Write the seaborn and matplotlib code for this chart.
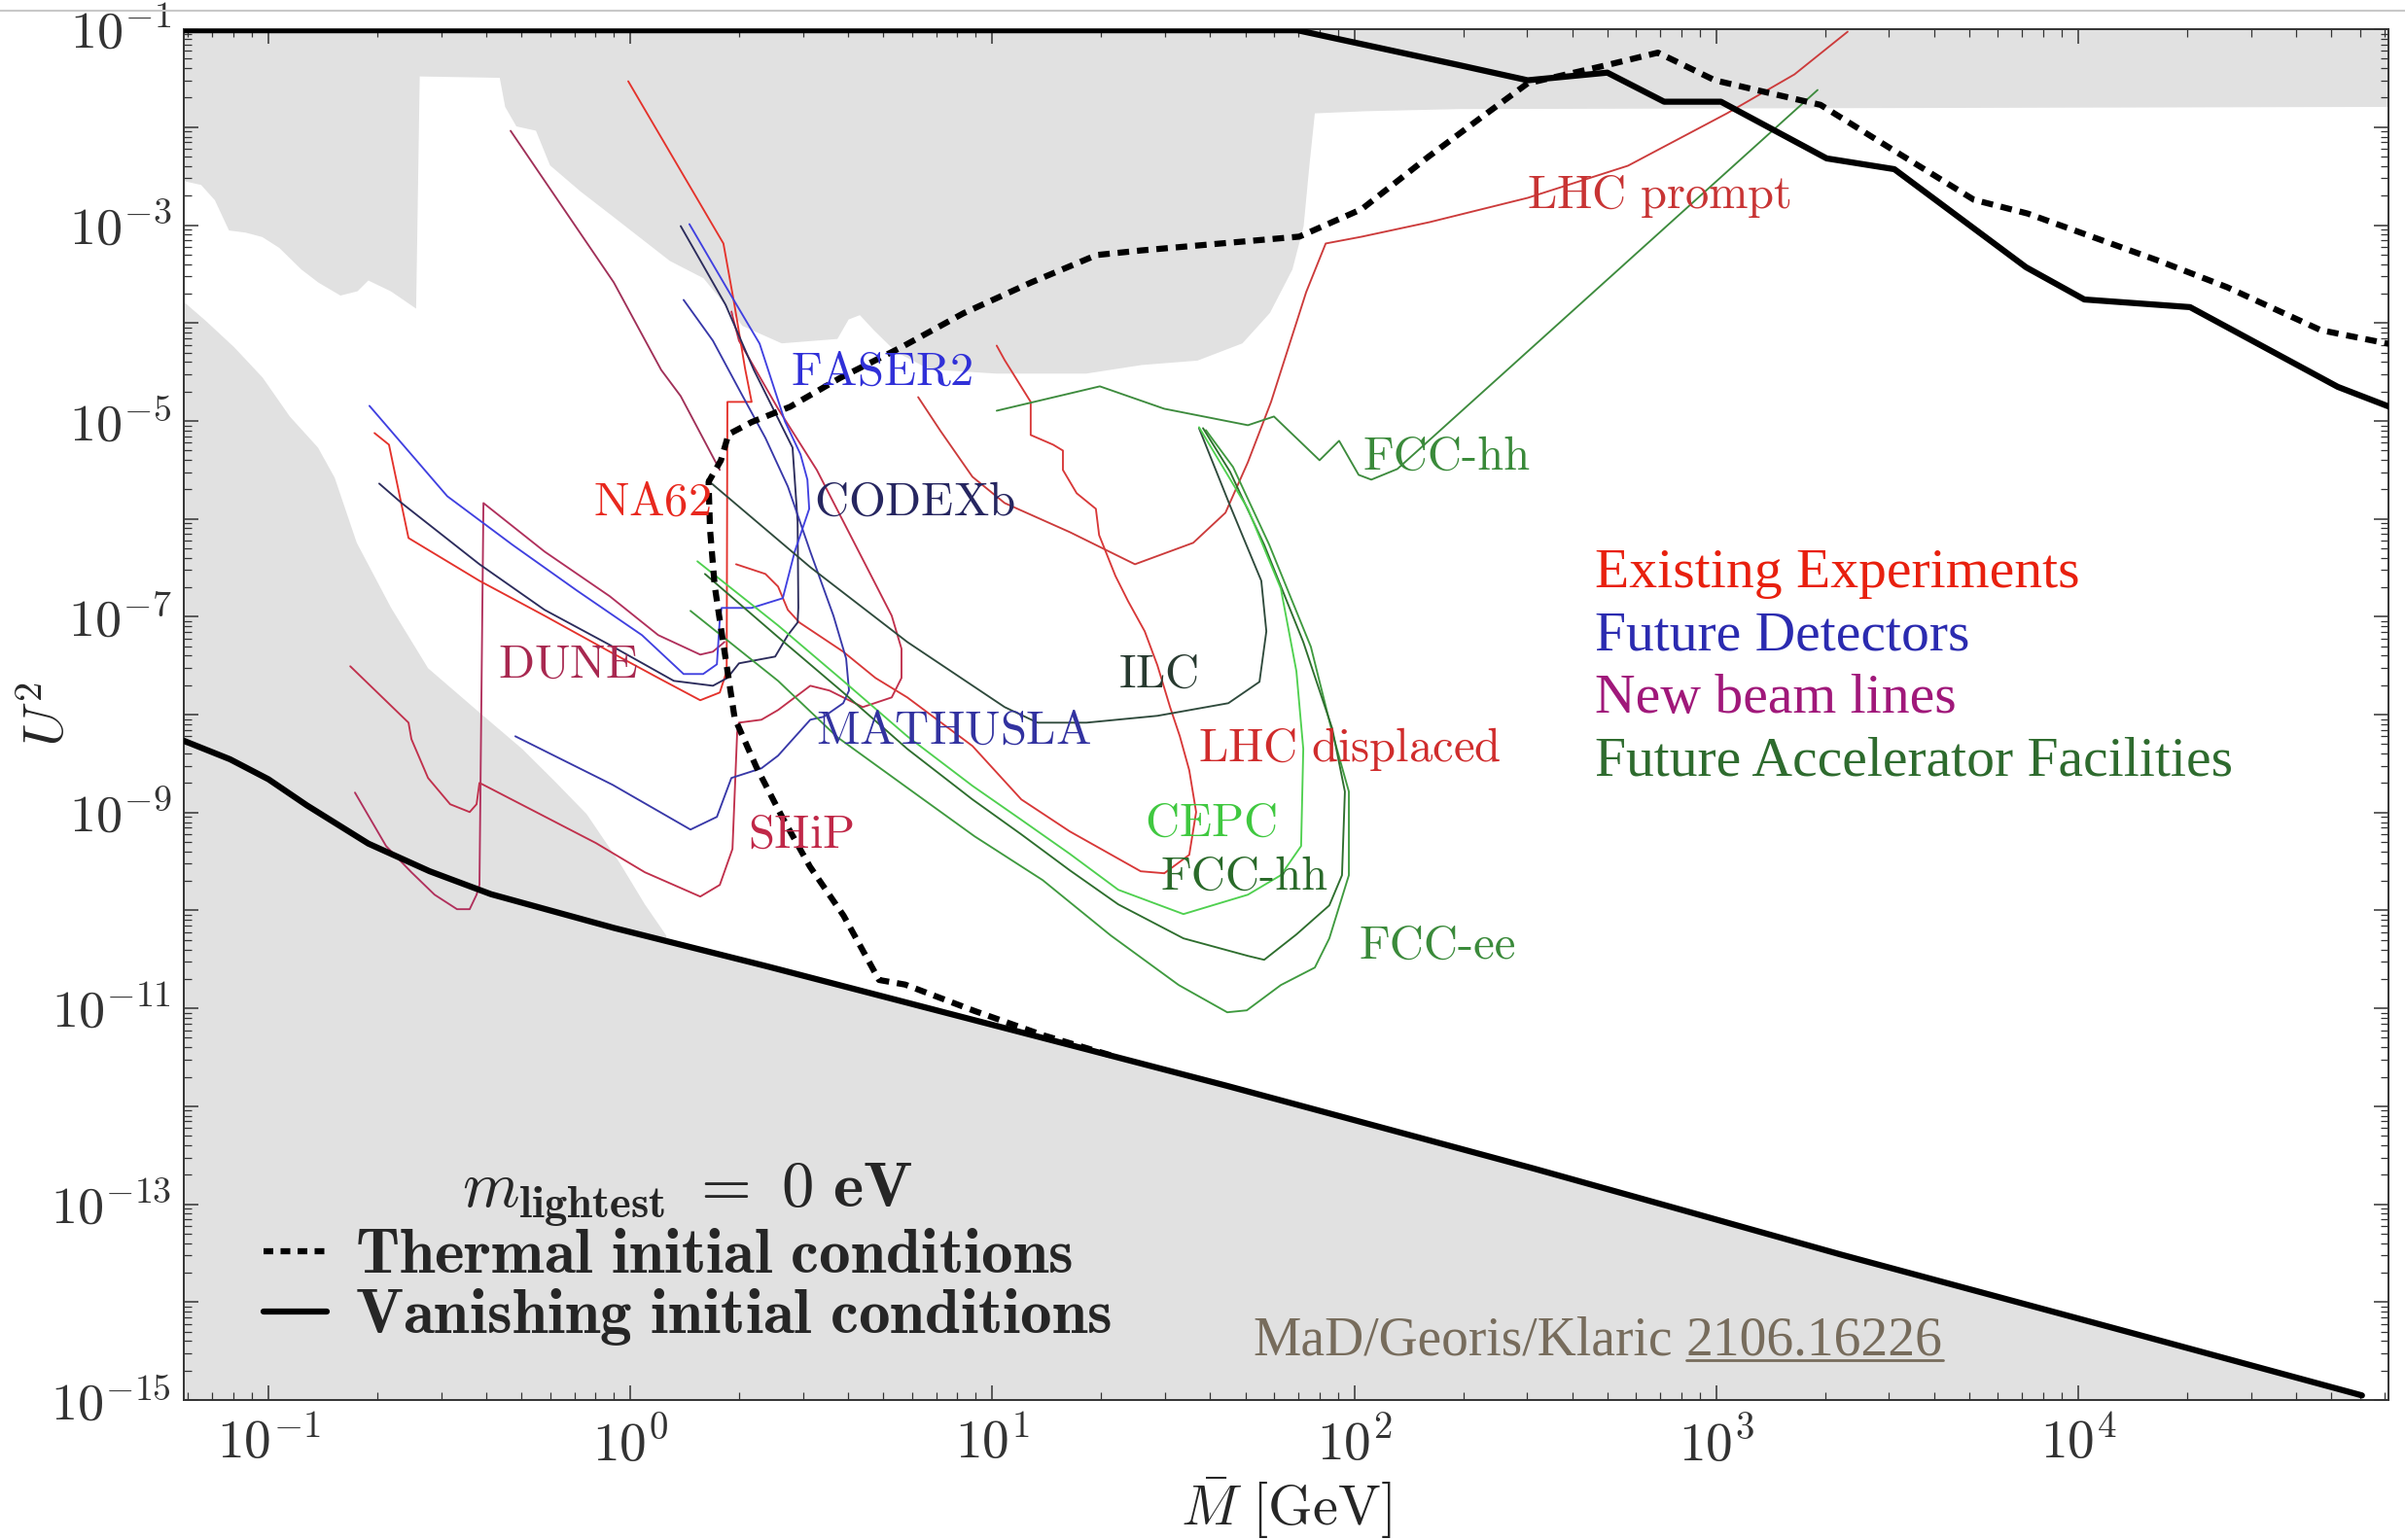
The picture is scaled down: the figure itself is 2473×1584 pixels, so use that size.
import numpy as np
import pandas as pd
import matplotlib
matplotlib.use("Agg")
import matplotlib.pyplot as plt
from matplotlib.lines import Line2D
from matplotlib.ticker import LogLocator, FuncFormatter, NullFormatter
import seaborn as sns

# ---------------- data (log10 of M [GeV] and log10 of U^2) ----------------
seesaw_logM = [-1.233, -1.106, -1.000, -0.894, -0.724, -0.555, -0.385, -0.046, 0.377, 0.801, 1.225,
               1.648, 2.072, 2.496, 2.920, 3.343, 3.767, 4.191, 4.784]
seesaw_logU2 = [-8.268, -8.456, -8.660, -8.926, -9.317, -9.599, -9.834, -10.178, -10.570, -10.977, -11.384,
                -11.791, -12.213, -12.636, -13.074, -13.513, -13.935, -14.358, -14.953]

vanish_logM = [-1.24, 1.843, 2.288, 2.479, 2.699, 2.856, 3.013, 3.305, 3.492, 3.856, 4.017, 4.309, 4.717, 4.860]
vanish_logU2 = [-1.01, -1.01, -1.365, -1.521, -1.443, -1.740, -1.740, -2.319, -2.429, -3.431, -3.760, -3.838,
                -4.652, -4.856]

thermal_logM = [1.326, 1.140, 0.949, 0.759, 0.687, 0.589, 0.496, 0.420, 0.348, 0.288, 0.250, 0.233, 0.220,
                0.216, 0.250, 0.271, 0.335, 0.441, 0.581, 0.750, 0.920, 1.106, 1.288, 1.411, 1.848, 2.021,
                2.204, 2.352, 2.479, 2.699, 2.839, 2.996, 3.123, 3.288, 3.492, 3.712, 3.861, 4.225, 4.411,
                4.670, 4.860]
thermal_logU2 = [-11.478, -11.274, -11.024, -10.757, -10.710, -10.053, -9.552, -9.051, -8.535, -8.034, -7.110,
                 -6.687, -6.108, -5.623, -5.404, -5.137, -5.012, -4.856, -4.558, -4.245, -3.901, -3.588, -3.306,
                 -3.259, -3.118, -2.836, -2.304, -1.897, -1.552, -1.365, -1.239, -1.521, -1.631, -1.772, -2.241,
                 -2.742, -2.883, -3.368, -3.634, -4.073, -4.214]

excl_logM = [-1.24, -1.186, -1.148, -1.109, -1.063, -1.017, -0.970, -0.909, -0.862, -0.801, -0.754, -0.724,
             -0.662, -0.592, -0.582, -0.361, -0.346, -0.315, -0.261, -0.222, -0.138, -0.045, 0.109, 0.202,
             0.310, 0.418, 0.572, 0.603, 0.634, 0.673, 0.734, 0.827, 1.012, 1.259, 1.413, 1.567, 1.691, 1.767,
             1.829, 1.860, 1.876, 1.891, 2.030, 2.289, 4.87]
excl_logU2 = [-2.546, -2.590, -2.746, -3.055, -3.077, -3.122, -3.233, -3.454, -3.587, -3.720, -3.676, -3.566,
              -3.676, -3.853, -1.482, -1.496, -1.793, -1.992, -2.036, -2.390, -2.656, -2.922, -3.366, -3.543,
              -4.030, -4.208, -4.163, -3.964, -3.920, -4.075, -4.296, -4.474, -4.517, -4.517, -4.429, -4.384,
              -4.208, -3.897, -3.454, -3.011, -2.390, -1.859, -1.837, -1.815, -1.793]

bbn_logM = [-1.24, -1.172, -1.094, -1.016, -0.941, -0.863, -0.817, -0.756, -0.661, -0.559, -0.425, -0.299,
            -0.210, -0.121, -0.030, 0.040, 0.099]
bbn_logU2 = [-3.764, -3.982, -4.250, -4.558, -4.955, -5.273, -5.580, -6.245, -6.910, -7.526, -7.953, -8.350,
             -8.677, -9.015, -9.511, -9.938, -10.255]

na62_logM = [-0.707, -0.667, -0.613, -0.417, -0.237, -0.057, 0.077, 0.193, 0.247, 0.266, 0.268, 0.335, 0.317,
             0.287, 0.257, -0.006]
na62_logU2 = [-5.124, -5.243, -6.196, -6.633, -6.990, -7.357, -7.625, -7.853, -7.774, -7.556, -4.806, -4.806,
              -4.469, -3.804, -3.188, -1.531]

faser2_logM = [-0.721, -0.506, -0.326, -0.148, 0.032, 0.147, 0.201, 0.239, 0.247, 0.252, 0.335, 0.421, 0.454,
               0.494, 0.489, 0.470, 0.427, 0.357, 0.279, 0.163]
faser2_logU2 = [-4.846, -5.769, -6.265, -6.732, -7.188, -7.585, -7.585, -7.486, -7.030, -6.910, -6.910, -6.811,
                -6.335, -5.898, -5.600, -5.342, -5.005, -4.211, -3.724, -2.990]

mathusla_logM = [-0.318, -0.049, 0.166, 0.239, 0.279, 0.362, 0.408, 0.497, 0.534, 0.588, 0.604, 0.596, 0.561,
                 0.497, 0.435, 0.373, 0.300, 0.228, 0.147]
mathusla_logU2 = [-8.221, -8.717, -9.174, -9.044, -8.647, -8.548, -8.419, -8.052, -8.022, -7.883, -7.754,
                  -7.427, -6.990, -6.335, -5.670, -5.174, -4.677, -4.181, -3.764]

codexb_logM = [-0.694, -0.632, -0.417, -0.237, -0.057, 0.120, 0.228, 0.268, 0.300, 0.400, 0.435, 0.462, 0.464,
               0.462, 0.448, 0.341, 0.263, 0.139]
codexb_logU2 = [-5.640, -5.839, -6.464, -6.930, -7.288, -7.655, -7.705, -7.625, -7.476, -7.407, -7.188, -7.059,
                -6.910, -6.027, -5.273, -4.479, -3.814, -3.010]

dune_logM = [-0.761, -0.675, -0.605, -0.541, -0.479, -0.444, -0.425, -0.417, -0.406, -0.237, -0.057, 0.077,
             0.193, 0.228, 0.260]
dune_logU2 = [-8.796, -9.342, -9.610, -9.839, -9.987, -9.987, -9.839, -9.739, -5.839, -6.335, -6.791, -7.188,
              -7.387, -7.357, -7.258]

ship_logM = [-0.774, -0.613, -0.605, -0.559, -0.498, -0.444, -0.425, -0.417, -0.406, -0.095, 0.040, 0.193,
             0.247, 0.282, 0.295, 0.300, 0.362, 0.408, 0.497, 0.550, 0.642, 0.722, 0.749, 0.749, 0.722, 0.631,
             0.515, 0.408, 0.300, 0.279]
ship_logU2 = [-7.506, -8.082, -8.250, -8.647, -8.915, -8.995, -8.915, -8.697, -8.717, -9.312, -9.610, -9.858,
              -9.739, -9.372, -8.181, -8.082, -8.052, -7.953, -7.705, -7.754, -7.923, -7.824, -7.625, -7.327,
              -6.990, -6.335, -5.501, -4.876, -4.181, -3.883]

beam_logM = [-0.331, -0.046, 0.085, 0.139, 0.247]
beam_logU2 = [-2.037, -3.585, -4.479, -4.747, -5.501]

r3_logM = [0.292, 0.373, 0.408, 0.435, 0.467, 0.588, 0.677, 0.765, 0.945, 1.080, 1.214, 1.410, 1.475]
r3_logU2 = [-6.464, -6.563, -6.692, -6.930, -7.059, -7.357, -7.625, -7.824, -8.320, -8.866, -9.193, -9.600,
            -9.620]

lhcd_logM = [1.012, 1.034, 1.106, 1.106, 1.168, 1.195, 1.195, 1.233, 1.286, 1.295, 1.340, 1.375, 1.421, 1.456,
             1.491, 1.518, 1.544, 1.563, 1.544, 1.475]
lhcd_logU2 = [-4.231, -4.379, -4.806, -5.144, -5.243, -5.303, -5.501, -5.739, -5.898, -6.166, -6.583, -6.841,
              -7.149, -7.496, -7.923, -8.221, -8.568, -8.995, -9.432, -9.620]

lhcp_logM = [0.795, 0.857, 0.945, 1.034, 1.214, 1.394, 1.555, 1.644, 1.706, 1.770, 1.867, 1.921, 2.020, 2.208,
             2.479, 2.756, 3.030, 3.216, 3.363]
lhcp_logU2 = [-4.757, -5.104, -5.571, -5.839, -6.136, -6.464, -6.245, -5.938, -5.422, -4.806, -3.685, -3.188,
              -3.119, -2.970, -2.722, -2.394, -1.858, -1.461, -1.025]

fcchh_up_logM = [1.012, 1.297, 1.475, 1.706, 1.778, 1.904, 1.958, 2.012, 2.047, 2.119, 3.280]
fcchh_up_logU2 = [-4.896, -4.647, -4.876, -5.044, -4.955, -5.402, -5.203, -5.551, -5.600, -5.491, -1.620]

ilc_logM = [0.212, 0.497, 0.765, 1.034, 1.125, 1.260, 1.456, 1.652, 1.738, 1.757, 1.743, 1.657, 1.571]
ilc_logU2 = [-5.600, -6.494, -7.258, -7.923, -8.082, -8.082, -8.012, -7.883, -7.665, -7.149, -6.633, -5.868,
             -5.074]

cepc_logM = [0.185, 0.408, 0.588, 0.765, 0.945, 1.080, 1.214, 1.348, 1.528, 1.706, 1.797, 1.853, 1.859, 1.840,
             1.797, 1.706, 1.571]
cepc_logU2 = [-6.434, -7.089, -7.655, -8.221, -8.727, -9.074, -9.422, -9.789, -10.037, -9.839, -9.640, -9.342,
              -8.350, -7.556, -6.712, -5.898, -5.064]

fcchh_lo_logM = [0.206, 0.408, 0.588, 0.765, 0.945, 1.080, 1.214, 1.348, 1.528, 1.706, 1.751, 1.840, 1.931,
                 1.966, 1.974, 1.939, 1.859, 1.751, 1.657, 1.582]
fcchh_lo_logU2 = [-6.563, -7.208, -7.774, -8.350, -8.866, -9.223, -9.590, -9.938, -10.285, -10.464, -10.504,
                  -10.245, -9.948, -9.640, -8.786, -8.141, -7.258, -6.265, -5.521, -5.074]

fccee_logM = [0.166, 0.408, 0.572, 0.765, 0.951, 1.139, 1.327, 1.515, 1.649, 1.703, 1.797, 1.891, 1.931, 1.985,
              1.985, 1.939, 1.880, 1.765, 1.665, 1.590]
fccee_logU2 = [-6.940, -7.655, -8.231, -8.747, -9.243, -9.690, -10.255, -10.762, -11.040, -11.020, -10.762,
               -10.583, -10.285, -9.640, -8.786, -8.181, -7.307, -6.265, -5.471, -5.094]

# labels: (text, logM, logU2, colour)
exp_labels = [
    ("FASER2", 0.695, -4.511, "#3030d8"),
    ("NA62", 0.059, -5.842, "#e8281e"),
    ("CODEXb", 0.784, -5.842, "#262660"),
    ("DUNE", -0.174, -7.501, "#a82850"),
    ("ILC", 1.458, -7.595, "#283a30"),
    ("MATHUSLA", 0.894, -8.174, "#3232a0"),
    ("LHC displaced", 1.987, -8.347, "#d02c2c"),
    ("SHiP", 0.470, -9.239, "#c02848"),
    ("CEPC", 1.602, -9.114, "#40c840"),
    ("FCC-hh", 1.695, -9.662, "#2a6a2a"),
    ("FCC-ee", 2.229, -10.366, "#3a8a3a"),
    ("FCC-hh", 2.255, -5.372, "#3a8a3a"),
    ("LHC prompt", 2.843, -2.711, "#c83434"),
]
category_labels = ["Existing Experiments", "Future Detectors", "New beam lines", "Future Accelerator Facilities"]
category_colors = ["#e8200e", "#2b2bb0", "#a0187a", "#2e6b2e"]

# ---------------- style ----------------
sns.set_theme(style="ticks")
plt.rcParams.update({
    "font.family": ["Liberation Serif", "DejaVu Serif"],
    "mathtext.fontset": "cm",
    "axes.linewidth": 1.4,
    "axes.edgecolor": "#333333",
    "xtick.direction": "in",
    "ytick.direction": "in",
    "xtick.top": True,
    "ytick.right": True,
    "xtick.major.size": 11,
    "ytick.major.size": 11,
    "xtick.minor.size": 5.5,
    "ytick.minor.size": 5.5,
    "xtick.major.width": 1.1,
    "ytick.major.width": 1.1,
    "xtick.minor.width": 0.9,
    "ytick.minor.width": 0.9,
    "xtick.color": "#333333",
    "ytick.color": "#333333",
})

GREY = "#e1e1e1"
fig = plt.figure(figsize=(24.73, 15.84), dpi=100)
fig.patch.set_facecolor("white")
ax = fig.add_axes([0.0764, 0.0909, 0.9931 - 0.0764, 0.981 - 0.0909])
ax.set_facecolor("white")
ax.set_xscale("log")
ax.set_yscale("log")
XMIN, XMAX = 10 ** -1.234, 10 ** 4.857
ax.set_xlim(XMIN, XMAX)
ax.set_ylim(1e-15, 1e-1)


def P(a):
    return 10 ** np.asarray(a, dtype=float)


# grey excluded regions
ax.fill(np.r_[P(excl_logM), XMAX * 2, XMIN / 2], np.r_[P(excl_logU2), 1.0, 1.0],
        color=GREY, lw=0, zorder=0.5)
ax.fill(np.r_[P(bbn_logM), 10 ** 0.15, XMIN / 2], np.r_[P(bbn_logU2), 1e-16, 1e-16],
        color=GREY, lw=0, zorder=0.5)
ax.fill_between(P(seesaw_logM), P(seesaw_logU2), 1e-16, color=GREY, lw=0, zorder=0.5)


def curve(lm, lu, color, lw=1.4, **kw):
    df = pd.DataFrame({"M": P(lm), "U2": P(lu)})
    sns.lineplot(data=df, x="M", y="U2", sort=False, estimator=None, errorbar=None,
                 color=color, lw=lw, ax=ax, legend=False, **kw)


THIN = 1.35
curve(beam_logM, beam_logU2, "#a03058", THIN)
curve(dune_logM, dune_logU2, "#b0305c", THIN)
curve(ship_logM, ship_logU2, "#c0304c", THIN)
curve(na62_logM, na62_logU2, "#e4322b", THIN)
curve(r3_logM, r3_logU2, "#d83838", THIN)
curve(lhcd_logM, lhcd_logU2, "#d83838", THIN)
curve(lhcp_logM, lhcp_logU2, "#cc3b3b", THIN)
curve(codexb_logM, codexb_logU2, "#2c2c5c", THIN)
curve(mathusla_logM, mathusla_logU2, "#3838a8", THIN)
curve(faser2_logM, faser2_logU2, "#4040e0", THIN)
curve(ilc_logM, ilc_logU2, "#2f4a3c", THIN)
curve(fccee_logM, fccee_logU2, "#3f9a3f", THIN)
curve(fcchh_lo_logM, fcchh_lo_logU2, "#2e6e2e", THIN)
curve(cepc_logM, cepc_logU2, "#4fd04f", THIN)
curve(fcchh_up_logM, fcchh_up_logU2, "#3d8b3d", THIN)

# leptogenesis bounds
curve(seesaw_logM, seesaw_logU2, "black", 4.5, zorder=3)
curve(vanish_logM, vanish_logU2, "black", 4.5, zorder=3)
curve(thermal_logM, thermal_logU2, "black", 4.5, zorder=3, linestyle=(0, (1.9, 1.3)))

# experiment labels
for txt, lm, lu, col in exp_labels:
    if "-" in txt:
        s = txt
    else:
        s = r"$\mathrm{%s}$" % txt.replace(" ", r"\ ")
    ax.text(10 ** lm, 10 ** lu, s, color=col, fontsize=35, ha="center", va="center",
            family="cmr10", zorder=4)

# category texts
for i, (t, c) in enumerate(zip(category_labels, category_colors)):
    ax.text(0.6403, 0.603 - i * 0.0459, t, color=c, fontsize=41.5, ha="left", va="center",
            transform=ax.transAxes, family="Liberation Serif", zorder=4)

# axes ticks
ax.xaxis.set_major_locator(LogLocator(base=10, numticks=30))
ax.yaxis.set_major_locator(LogLocator(base=10, numticks=30))
ax.xaxis.set_minor_locator(LogLocator(base=10, subs=np.arange(2, 10), numticks=30))
ax.yaxis.set_minor_locator(LogLocator(base=10, subs=np.arange(2, 10), numticks=30))
ax.xaxis.set_minor_formatter(NullFormatter())
ax.yaxis.set_minor_formatter(NullFormatter())


def xfmt(v, pos):
    e = int(round(np.log10(v)))
    return r"$10^{%d}$" % e


def yfmt(v, pos):
    e = int(round(np.log10(v)))
    return r"$10^{%d}$" % e if e % 2 != 0 else ""


ax.xaxis.set_major_formatter(FuncFormatter(xfmt))
ax.yaxis.set_major_formatter(FuncFormatter(yfmt))
ax.tick_params(axis="x", which="major", labelsize=40, pad=14)
ax.tick_params(axis="y", which="major", labelsize=39, pad=9)
for sp in ax.spines.values():
    sp.set_visible(True)

ax.set_xlabel(r"$\bar{M}\ [\mathrm{GeV}]$", fontsize=42, labelpad=2)
ax.set_ylabel(r"$U^2$", fontsize=42)
ax.yaxis.set_label_coords(-0.049, 0.5)

# legend
handles = [Line2D([], [], color="black", lw=4.5, linestyle=(0, (1.6, 1.2))),
           Line2D([], [], color="black", lw=4.5)]
labels = [r"$\mathbf{Thermal\ initial\ conditions}$", r"$\mathbf{Vanishing\ initial\ conditions}$"]
leg = ax.legend(handles, labels, title=r"$m_{\mathbf{lightest}}\ \mathbf{=\ 0\ eV}$",
                loc="lower left", bbox_to_anchor=(0.036, 0.038), frameon=False, fontsize=47,
                title_fontsize=48, handlelength=1.0, handletextpad=0.45, labelspacing=0.0,
                borderpad=0, borderaxespad=0)
leg.set_zorder(5)

# attribution with underlined arXiv number
t1 = ax.text(0.485, 0.043, "MaD/Georis/Klaric", color="#776c5c", fontsize=40, ha="left", va="center",
             transform=ax.transAxes, family="Liberation Serif", zorder=4)
fig.canvas.draw()
r = fig.canvas.get_renderer()
bb1 = t1.get_window_extent(r)
x2_disp = bb1.x1 + 0.25 * 40 * 100 / 72
x2_ax, _ = ax.transAxes.inverted().transform((x2_disp, bb1.y0))
t2 = ax.text(x2_ax, 0.043, "2106.16226", color="#776c5c", fontsize=40, ha="left", va="center",
             transform=ax.transAxes, family="Liberation Serif", zorder=4)
fig.canvas.draw()
bb2 = t2.get_window_extent(r)
inv = fig.transFigure.inverted()
(ux0, uy), (ux1, _) = inv.transform([(bb2.x0, bb2.y0 + 6), (bb2.x1, bb2.y0 + 6)])
fig.add_artist(Line2D([ux0, ux1], [uy, uy], transform=fig.transFigure, color="#776c5c", lw=2.0))

# hide the empty labels of the unlabelled (even) decades
for tick in ax.yaxis.get_major_ticks():
    if tick.label1.get_text() == "":
        tick.label1.set_visible(False)
        tick.label2.set_visible(False)

# thin grey rule at the very top of the image
fig.add_artist(Line2D([0, 1], [1 - 11 / 1584] * 2, transform=fig.transFigure, color="#c8c8c8", lw=1.5))

fig.savefig("out.png", dpi=100, facecolor="white")
